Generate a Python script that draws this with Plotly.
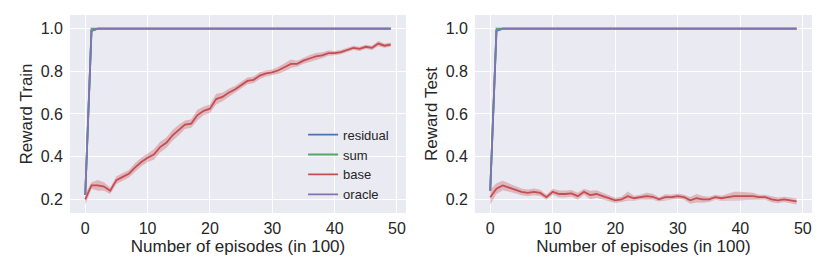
import plotly.graph_objects as go

episodes = list(range(50))

oracle_train = [0.22, 0.99] + [1.0] * 48
residual_train = [0.22, 0.99] + [1.0] * 48
sum_train = [0.22, 1.0] + [1.0] * 48
base_train = [0.20, 0.265, 0.265, 0.26, 0.24, 0.29, 0.305, 0.32, 0.35, 0.375,
              0.395, 0.41, 0.445, 0.465, 0.50, 0.525, 0.55, 0.555, 0.595, 0.615,
              0.625, 0.67, 0.68, 0.70, 0.715, 0.735, 0.755, 0.76, 0.78, 0.79,
              0.795, 0.805, 0.82, 0.835, 0.835, 0.85, 0.86, 0.87, 0.875, 0.885,
              0.885, 0.89, 0.90, 0.91, 0.905, 0.915, 0.91, 0.93, 0.92, 0.925]
base_train_sd = [0.025, 0.015, 0.025, 0.02, 0.015, 0.018, 0.018, 0.018, 0.02, 0.02,
                 0.02, 0.025, 0.025, 0.025, 0.025, 0.025, 0.02, 0.02, 0.025, 0.02,
                 0.02, 0.025, 0.02, 0.018, 0.016, 0.016, 0.016, 0.016, 0.016, 0.014,
                 0.014, 0.016, 0.02, 0.02, 0.014, 0.014, 0.016, 0.016, 0.014, 0.012,
                 0.01, 0.01, 0.01, 0.01, 0.01, 0.01, 0.01, 0.012, 0.01, 0.01]

oracle_test = [0.24, 0.99] + [1.0] * 48
residual_test = [0.24, 0.99] + [1.0] * 48
sum_test = [0.24, 1.0] + [1.0] * 48
base_test = [0.21, 0.25, 0.265, 0.255, 0.245, 0.235, 0.23, 0.235, 0.23, 0.21,
             0.235, 0.225, 0.225, 0.228, 0.215, 0.235, 0.22, 0.225, 0.215, 0.205,
             0.195, 0.20, 0.215, 0.205, 0.21, 0.215, 0.212, 0.20, 0.21, 0.21,
             0.215, 0.21, 0.195, 0.205, 0.20, 0.20, 0.21, 0.205, 0.21, 0.215,
             0.215, 0.215, 0.215, 0.21, 0.21, 0.20, 0.195, 0.20, 0.195, 0.19]
base_test_sd = [0.035, 0.025, 0.022, 0.02, 0.016, 0.016, 0.016, 0.016, 0.015, 0.012,
                0.014, 0.016, 0.016, 0.016, 0.016, 0.014, 0.02, 0.018, 0.016, 0.014,
                0.012, 0.012, 0.022, 0.012, 0.012, 0.016, 0.014, 0.01, 0.014, 0.012,
                0.012, 0.012, 0.016, 0.02, 0.016, 0.012, 0.012, 0.012, 0.016, 0.02,
                0.02, 0.018, 0.016, 0.012, 0.012, 0.014, 0.014, 0.012, 0.012, 0.014]

x_ticks = [0, 10, 20, 30, 40, 50]
y_ticks = [0.2, 0.4, 0.6, 0.8, 1.0]

colors = {"residual": "#4C72B0", "sum": "#55A868", "base": "#C44E52", "oracle": "#8172B2"}
band_color = "rgba(196,78,82,0.33)"
FONT = "Liberation Sans, Arial, sans-serif"

fig = go.Figure()

def add_panel(xa, ya, residual, sm, base, base_sd, oracle, showlegend):
    upper = [m + s for m, s in zip(base, base_sd)]
    lower = [m - s for m, s in zip(base, base_sd)]
    fig.add_trace(go.Scatter(x=episodes + episodes[::-1], y=upper + lower[::-1],
                             fill="toself", fillcolor=band_color, line=dict(width=0),
                             hoverinfo="skip", showlegend=False, xaxis=xa, yaxis=ya))
    for name, vals in [("residual", residual), ("sum", sm), ("base", base), ("oracle", oracle)]:
        fig.add_trace(go.Scatter(x=episodes, y=vals, mode="lines", name=name,
                                 line=dict(color=colors[name], width=1.8),
                                 showlegend=showlegend, xaxis=xa, yaxis=ya))

add_panel("x", "y", residual_train, sum_train, base_train, base_train_sd, oracle_train, True)
add_panel("x2", "y2", residual_test, sum_test, base_test, base_test_sd, oracle_test, False)

axis_common = dict(showgrid=True, gridcolor="white", gridwidth=1.3, zeroline=False,
                   showline=False, ticks="", tickfont=dict(size=16, color="#262626", family=FONT))
xr = [-2.45, 51.45]
yr = [0.136, 1.064]
TF = dict(size=17, color="#262626", family=FONT)

fig.update_layout(
    width=822, height=269,
    margin=dict(l=0, r=0, t=0, b=0),
    paper_bgcolor="white",
    plot_bgcolor="#EAEAF2",
    font=dict(family=FONT, color="#262626"),
    xaxis=dict(domain=[0.0754, 0.4842], range=xr, tickvals=x_ticks, anchor="y", ticklabelstandoff=4,
               title=dict(text="Number of episodes (in 100)", font=TF, standoff=2), **axis_common),
    yaxis=dict(domain=[0.238, 0.974], range=yr, tickvals=y_ticks, tickformat=".1f", anchor="x",
               ticklabelstandoff=6,
               title=dict(text="Reward Train", font=TF, standoff=3), **axis_common),
    xaxis2=dict(domain=[0.568, 0.978], range=xr, tickvals=x_ticks, anchor="y2", ticklabelstandoff=4,
                title=dict(text="Number of episodes (in 100)", font=TF, standoff=2), **axis_common),
    yaxis2=dict(domain=[0.238, 0.974], range=yr, tickvals=y_ticks, tickformat=".1f", anchor="x2",
                ticklabelstandoff=6,
                title=dict(text="Reward Test", font=TF, standoff=3), **axis_common),
    legend=dict(x=0.359, y=0.585, xanchor="left", yanchor="top",
                bgcolor="rgba(0,0,0,0)", font=dict(size=13, color="#262626"),
                tracegroupgap=0, itemwidth=30),
)

fig.write_html("out.html")
